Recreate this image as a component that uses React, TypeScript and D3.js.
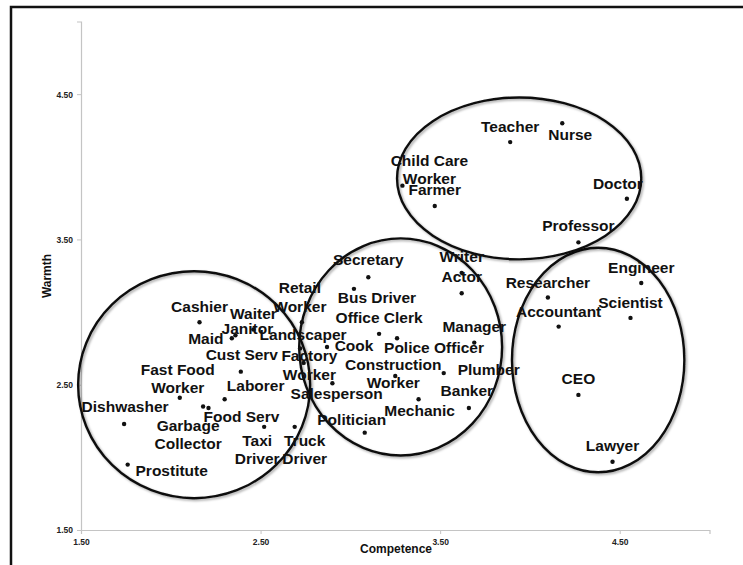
import React, { useEffect, useRef } from "react";
import * as d3 from "d3";

// occupations
const jobs = [
  "Teacher", "Nurse", "Child Care\nWorker", "Farmer", "Doctor", "Professor",
  "Engineer", "Researcher", "Scientist", "Accountant", "CEO", "Lawyer",
  "Secretary", "Bus Driver", "Writer", "Actor", "Office Clerk", "Police Officer",
  "Manager", "Cook", "Plumber", "Construction\nWorker", "Mechanic", "Banker",
  "Politician", "Retail\nWorker", "Landscaper", "Factory\nWorker", "Salesperson",
  "Cashier", "Waiter", "Janitor", "Maid", "Cust Serv", "Fast Food\nWorker",
  "Laborer", "Garbage\nCollector", "Food Serv", "Dishwasher", "Prostitute",
  "Taxi\nDriver", "Truck\nDriver",
];
const competence = [
  3.89, 4.18, 3.29, 3.47, 4.54, 4.27,
  4.62, 4.10, 4.56, 4.16, 4.27, 4.46,
  3.10, 3.02, 3.62, 3.62, 3.16, 3.26,
  3.69, 2.87, 3.52, 3.25, 3.38, 3.66,
  3.08, 2.73, 2.72, 2.90, 2.74,
  2.16, 2.46, 2.36, 2.34, 2.39, 2.05,
  2.30, 2.18, 2.21, 1.74, 1.76,
  2.52, 2.69,
];
const warmth = [
  4.17, 4.30, 3.87, 3.73, 3.78, 3.48,
  3.20, 3.10, 2.96, 2.90, 2.43, 1.97,
  3.24, 3.16, 3.27, 3.13, 2.85, 2.82,
  2.79, 2.76, 2.58, 2.56, 2.40, 2.34,
  2.17, 2.93, 2.75, 2.51, 2.65,
  2.93, 2.88, 2.84, 2.82, 2.59, 2.41,
  2.40, 2.35, 2.34, 2.23, 1.95,
  2.21, 2.21,
];

// cluster ellipses (centre and radii in data units)
const clusterCx = [2.13, 3.28, 4.38, 3.94];
const clusterCy = [2.50, 2.76, 2.67, 3.92];
const clusterRx = [0.646, 0.565, 0.48, 0.68];
const clusterRy = [0.781, 0.747, 0.773, 0.557];

const ticks = [1.5, 2.5, 3.5, 4.5];

// hand placed label offsets in px: [dx, dy of first baseline]
const labelOffset = [
  [0, -10], [8, 17], [27, -20], [0, -11], [-9, -10], [0, -11],
  [0, -10], [0, -10], [0, -10], [0, -10], [0, -11], [0, -11],
  [0, -12], [23, 14], [0, -11], [0, -11], [0, -11], [37, 15],
  [0, -11], [27, 4], [45, 2], [-2, -6], [1, 17], [-2, -12],
  [-13, -8], [-2, -29], [3, -8], [-23, -22], [33, 36],
  [0, -10], [0, -11], [12, -1], [-26, 6], [1, -12], [-2, -23],
  [31, -8], [-15, 24], [33, 14], [1, -12], [44, 11],
  [-7, 19], [10, 19],
];

export default function App() {
  const ref = useRef(null);

  useEffect(() => {
    const width = 743, height = 565;
    const svg = d3.select(ref.current);
    svg.selectAll("*").remove();

    const x = d3.scaleLinear().domain([1.5, 5]).range([81, 709.5]);
    const y = d3.scaleLinear().domain([1.5, 5]).range([530, 21.5]);

    svg.append("rect").attr("width", width).attr("height", height).attr("fill", "#fff");

    const defs = svg.append("defs");
    defs.append("filter").attr("id", "shadow")
      .attr("x", "-10%").attr("y", "-10%").attr("width", "120%").attr("height", "120%")
      .append("feDropShadow")
      .attr("dx", 1.5).attr("dy", 1.5).attr("stdDeviation", 1.2)
      .attr("flood-color", "#000").attr("flood-opacity", 0.35);

    // outer frame
    svg.append("rect")
      .attr("x", 11).attr("y", 7).attr("width", 780).attr("height", 620)
      .attr("fill", "none").attr("stroke", "#111").attr("stroke-width", 2.5);

    // axes
    const yAxis = svg.append("g")
      .attr("transform", "translate(" + x(1.5) + ",0)")
      .call(d3.axisLeft(y).tickValues(ticks).tickSize(4).tickFormat(d3.format(".2f")));
    const xAxis = svg.append("g")
      .attr("transform", "translate(0," + y(1.5) + ")")
      .call(d3.axisBottom(x).tickValues(ticks).tickSize(4).tickFormat(d3.format(".2f")));
    [yAxis, xAxis].forEach(function (g) {
      g.select(".domain").attr("stroke", "#c4c4c4").attr("stroke-width", 1.2);
      g.selectAll(".tick line").attr("stroke", "#c4c4c4");
      g.selectAll(".tick text")
        .attr("fill", "#222")
        .style("font-family", "'Liberation Sans', Arial, sans-serif")
        .style("font-size", "8.5px")
        .style("font-weight", "bold");
    });
    yAxis.selectAll(".tick text").attr("x", -8).attr("dy", "0.35em");
    xAxis.selectAll(".tick text").attr("y", 9).attr("dy", "0.71em");

    svg.append("text")
      .attr("transform", "translate(51," + 276 + ") rotate(-90)")
      .attr("text-anchor", "middle")
      .style("font-family", "'Liberation Sans', Arial, sans-serif")
      .style("font-size", "12px").style("font-weight", "bold")
      .attr("fill", "#111")
      .text("Warmth");
    svg.append("text")
      .attr("x", 396).attr("y", 553)
      .attr("text-anchor", "middle")
      .style("font-family", "'Liberation Sans', Arial, sans-serif")
      .style("font-size", "12px").style("font-weight", "bold")
      .attr("fill", "#111")
      .text("Competence");

    // cluster ellipses
    svg.append("g")
      .selectAll("ellipse")
      .data(clusterCx)
      .enter()
      .append("ellipse")
      .attr("cx", function (d) { return x(d); })
      .attr("cy", function (d, i) { return y(clusterCy[i]); })
      .attr("rx", function (d, i) { return x(1.5 + clusterRx[i]) - x(1.5); })
      .attr("ry", function (d, i) { return y(1.5) - y(1.5 + clusterRy[i]); })
      .attr("fill", "none")
      .attr("stroke", "#111")
      .attr("stroke-width", 2.4)
      .attr("filter", "url(#shadow)");

    // points
    svg.append("g")
      .selectAll("circle")
      .data(jobs)
      .enter()
      .append("circle")
      .attr("cx", function (d, i) { return x(competence[i]); })
      .attr("cy", function (d, i) { return y(warmth[i]); })
      .attr("r", 2.2)
      .attr("fill", "#111");

    // labels
    const labels = svg.append("g")
      .selectAll("text")
      .data(jobs)
      .enter()
      .append("text")
      .attr("text-anchor", "middle")
      .attr("fill", "#111")
      .style("font-family", "'Liberation Sans', Arial, sans-serif")
      .style("font-size", "15.5px")
      .style("font-weight", "bold");
    labels.each(function (d, i) {
      const px = x(competence[i]) + labelOffset[i][0];
      const py = y(warmth[i]) + labelOffset[i][1];
      d.split("\n").forEach(function (line, j) {
        d3.select(this).append("tspan")
          .attr("x", px)
          .attr("y", py + j * 18.5)
          .text(line);
      }, this);
    });
  }, []);

  return (
    <div style={{ position: "absolute", left: 0, top: 0 }}>
      <svg ref={ref} width={743} height={565} style={{ display: "block" }} />
    </div>
  );
}
